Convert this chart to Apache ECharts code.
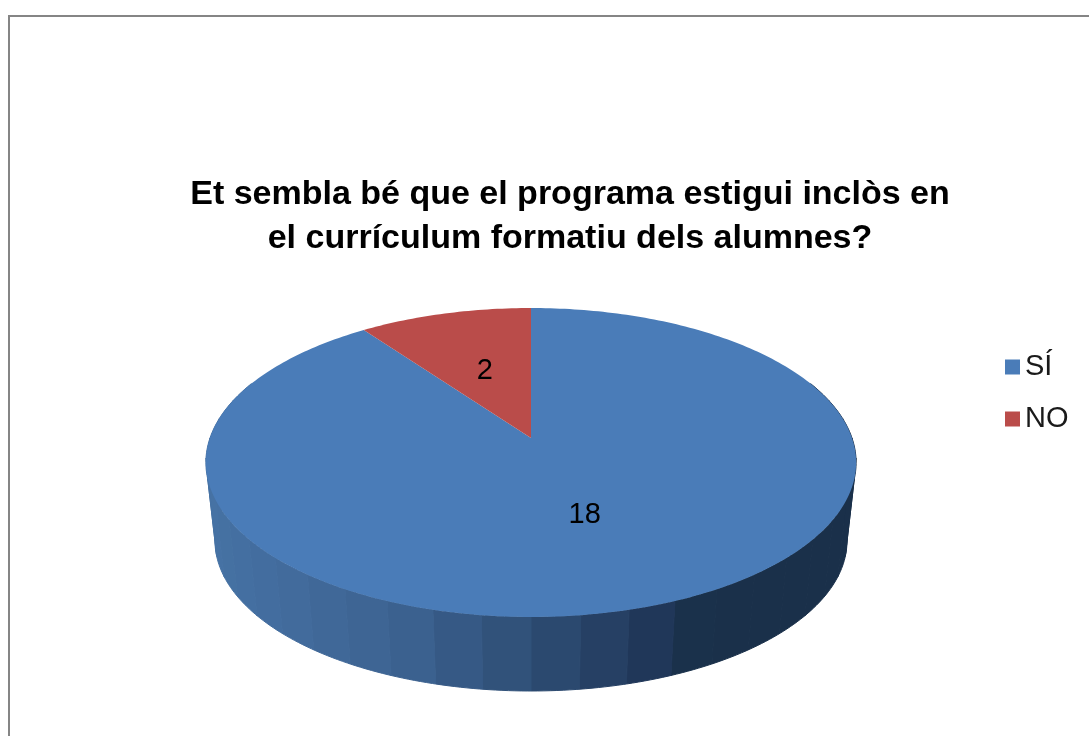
<!DOCTYPE html>
<html>
<head>
<meta charset="utf-8">
<title>Et sembla bé</title>
<script src="https://cdn.jsdelivr.net/npm/echarts@6/dist/echarts.min.js"></script>
<style>
html,body{margin:0;padding:0;background:#fff;}
#pie{width:1089px;height:736px;}
</style>
</head>
<body>
<div id="pie"></div>
<script>
var titleText = 'Et sembla bé que el programa estigui inclòs en\nel currículum formatiu dels alumnes?';
var categories = ['SÍ', 'NO'];
var values = [18, 2];
var colors = ['#4a7cb8', '#ba4c4a'];

// perspective of the tilted disc (no 3d pie in plain echarts, so project it by hand)
var top3d = {x: 531, y: 438, a: 321, b: 150.6};
var bottom3d = {x: 531, y: 517, a: 312, b: 146.4};
var tilt = -0.1586;
var labelRadius = 0.5;

// side wall colour going from left to right
var sideRamp = [[0, [70, 114, 164]], [0.3, [60, 98, 145]], [0.5, [46, 78, 117]], [0.68, [33, 56, 90]], [0.76, [26, 48, 74]], [1, [26, 48, 74]]];

var total = values.reduce(function (s, v) { return s + v; }, 0);

function project(disc, angle, r) {
    var u = Math.sin(angle) * r;
    var v = -Math.cos(angle) * r;
    var d = 1 + tilt * v;
    return [disc.x + disc.a * u / d, disc.y + disc.b * v / d];
}

function sideColor(t) {
    for (var i = 1; i < sideRamp.length; i++) {
        if (t <= sideRamp[i][0]) {
            var a = sideRamp[i - 1], b = sideRamp[i];
            var k = (t - a[0]) / (b[0] - a[0]);
            return 'rgb(' + [0, 1, 2].map(function (c) {
                return Math.round(a[1][c] + (b[1][c] - a[1][c]) * k);
            }).join(',') + ')';
        }
    }
    return 'rgb(26,48,74)';
}

function sliceRenderer(index) {
    return function (params, api) {
        var before = 0;
        for (var i = 0; i < index; i++) before += values[i];
        var start = before / total * Math.PI * 2;
        var end = (before + api.value(0)) / total * Math.PI * 2;
        var children = [];
        var step = Math.PI / 180;
        var bandStep = Math.PI / 24;

        // side wall, in bands like the original
        for (var s = start; s < end - 1e-6; s += bandStep) {
            var e = Math.min(s + bandStep, end);
            if (-Math.cos((s + e) / 2) < -0.35) continue;
            var pts = [];
            for (var t = s; t < e; t += step) pts.push(project(top3d, t, 1));
            pts.push(project(top3d, e, 1));
            pts.push(project(bottom3d, e, 1));
            for (var t2 = e; t2 > s; t2 -= step) pts.push(project(bottom3d, t2, 1));
            pts.push(project(bottom3d, s, 1));
            var mid = project(bottom3d, (s + e) / 2, 1);
            var col = sideColor((mid[0] - (bottom3d.x - 316)) / 632);
            children.push({
                type: 'polygon',
                z2: 1,
                shape: {points: pts},
                style: {fill: col, stroke: col, lineWidth: 1}
            });
        }

        // top face
        var face = [project(top3d, 0, 0)];
        for (var f = start; f < end; f += step) face.push(project(top3d, f, 1));
        face.push(project(top3d, end, 1));
        children.push({
            type: 'polygon',
            z2: 2,
            shape: {points: face},
            style: {fill: colors[index]}
        });

        var lp = project(top3d, (start + end) / 2, labelRadius);
        children.push({
            type: 'text',
            z2: 3,
            x: lp[0],
            y: lp[1],
            style: {
                text: String(api.value(0)),
                fill: '#000',
                font: '29px "Liberation Sans", Arial, sans-serif',
                align: 'center',
                verticalAlign: 'middle'
            }
        });
        return {type: 'group', children: children};
    };
}

var myChart = echarts.init(document.getElementById('pie'));

var option = {
    backgroundColor: '#fff',
    animation: false,
    color: colors,
    title: {
        text: titleText,
        left: 565,
        top: 168,
        textAlign: 'center',
        textStyle: {
            color: '#000',
            fontSize: 34,
            fontWeight: 'bold',
            lineHeight: 44,
            fontFamily: '"Liberation Sans", Arial, sans-serif'
        }
    },
    legend: {
        orient: 'vertical',
        left: 1000,
        top: 347,
        itemWidth: 15,
        itemHeight: 15,
        itemGap: 22,
        icon: 'rect',
        data: categories,
        textStyle: {
            color: '#1a1a1a',
            fontSize: 29,
            lineHeight: 30,
            padding: [0, 0, 0, 0],
            fontFamily: '"Liberation Sans", Arial, sans-serif'
        }
    },
    graphic: [{
        // frame of the pasted chart, runs off the right and bottom edges
        type: 'polyline',
        silent: true,
        shape: {points: [[9, 736], [9, 16], [1089, 16]]},
        style: {fill: null, stroke: '#858585', lineWidth: 2}
    }],
    series: categories.map(function (name, i) {
        return {
            type: 'custom',
            name: name,
            coordinateSystem: 'none',
            silent: true,
            itemStyle: {color: colors[i]},
            renderItem: sliceRenderer(i),
            data: [[values[i]]]
        };
    })
};
myChart.setOption(option);
window.onresize = function () {
    myChart.resize();
};
</script>
</body>
</html>
